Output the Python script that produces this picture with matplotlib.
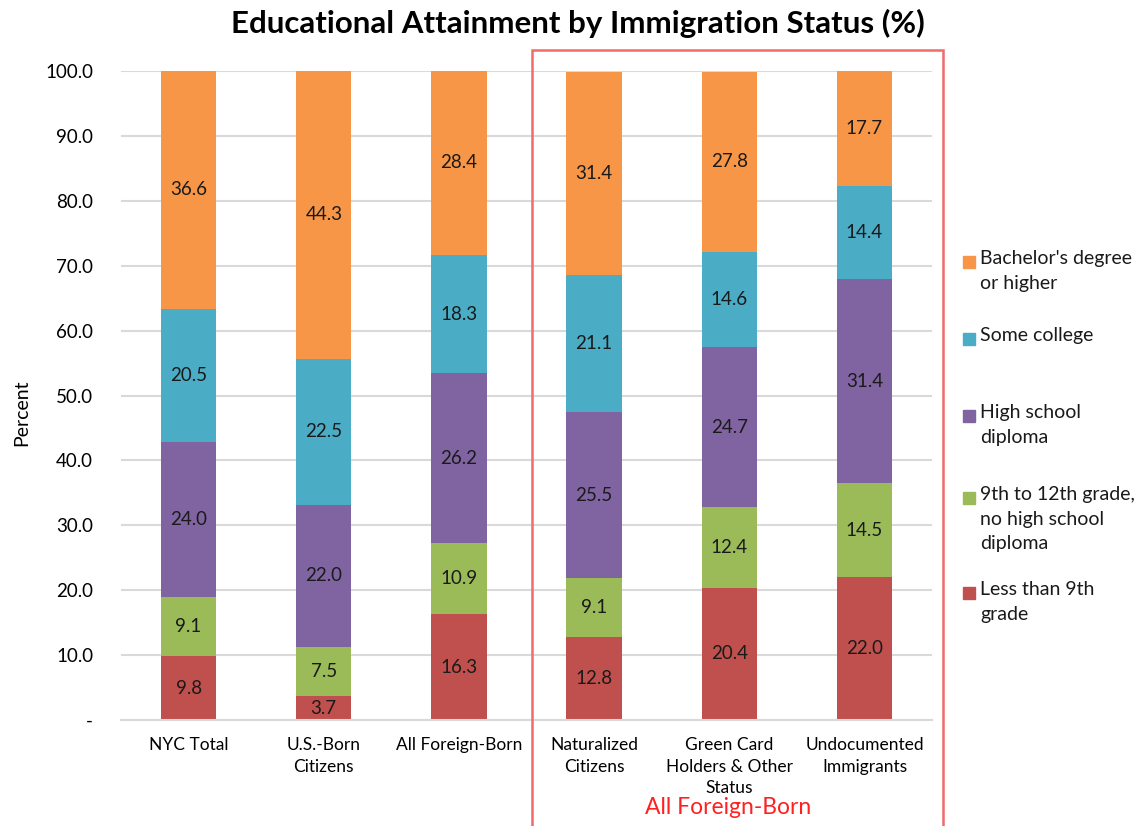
import numpy as np
import matplotlib.pyplot as plt
from matplotlib.patches import Rectangle

plt.rcParams['font.family'] = ['Lato', 'DejaVu Sans']

groups = ["NYC Total", "U.S.-Born\nCitizens", "All Foreign-Born",
          "Naturalized\nCitizens", "Green Card\nHolders & Other\nStatus",
          "Undocumented\nImmigrants"]

# stacked from the bottom up
less_9th = [9.8, 3.7, 16.3, 12.8, 20.4, 22.0]
grade_9_12 = [9.1, 7.5, 10.9, 9.1, 12.4, 14.5]
high_school = [24.0, 22.0, 26.2, 25.5, 24.7, 31.4]
some_college = [20.5, 22.5, 18.3, 21.1, 14.6, 14.4]
bachelors = [36.6, 44.3, 28.4, 31.4, 27.8, 17.7]

series = [less_9th, grade_9_12, high_school, some_college, bachelors]
names = ["Less than 9th\ngrade", "9th to 12th grade,\nno high school\ndiploma",
         "High school\ndiploma", "Some college", "Bachelor's degree\nor higher"]
colors = ["#C0504D", "#9BBB59", "#8064A2", "#4BACC6", "#F79646"]

yticks = np.arange(0, 101, 10)
ytick_labels = ["-"] + ["%.1f" % v for v in yticks[1:]]

fig = plt.figure(figsize=(11.46, 8.26), dpi=100)
ax = fig.add_axes([0.1056, 0.1283, 0.7077, 0.7857])

x = np.arange(len(groups))
bottom = np.zeros(len(groups))
for vals, col in zip(series, colors):
    vals = np.array(vals)
    ax.bar(x, vals, bottom=bottom, width=0.41, color=col, zorder=2)
    for xi, b, v in zip(x, bottom, vals):
        ax.text(xi, b + v / 2, "%.1f" % v, ha="center", va="center",
                fontsize=13.5, color="#1a1a1a", zorder=3)
    bottom += vals

ax.set_xlim(-0.5, 5.5)
ax.set_ylim(0, 100)
ax.set_yticks(yticks)
ax.set_yticklabels(ytick_labels, fontsize=13.5)
ax.set_xticks(x)
ax.set_xticklabels(groups, fontsize=12.5, linespacing=1.45)
ax.tick_params(axis="y", length=0, pad=20)
ax.tick_params(axis="x", length=0, pad=12)
ax.yaxis.grid(True, color="#d9d9d9", linewidth=1.5, zorder=0)
ax.set_axisbelow(True)
for s in ["top", "right", "left"]:
    ax.spines[s].set_visible(False)
ax.spines["bottom"].set_color("#d9d9d9")
ax.spines["bottom"].set_linewidth(1.5)

fig.text(0.019, 0.5, "Percent", rotation=90, ha="center", va="center", fontsize=14)
fig.text(0.504, 0.972, "Educational Attainment by Immigration Status (%)",
         ha="center", va="center", fontsize=22.5, fontweight="bold")

# box around the foreign-born breakdown
fig.patches.append(Rectangle((532 / 1146, -0.01), (943 - 532) / 1146, 1 - 50 / 826 + 0.01,
                             transform=fig.transFigure, fill=False,
                             edgecolor="#F26B6B", linewidth=1.8))
fig.text(728 / 1146, 1 - 808 / 826, "All Foreign-Born", ha="center", va="center",
         fontsize=16.5, color="#FF2020")

# legend, top entry first
legend_tops = [250, 327, 404, 486, 581]
for top, name, col in zip(legend_tops, names[::-1], colors[::-1]):
    fig.patches.append(Rectangle((963 / 1146, 1 - (top + 18) / 826), 12 / 1146, 12 / 826,
                                 transform=fig.transFigure, color=col))
    fig.text(980 / 1146, 1 - top / 826, name, ha="left", va="top",
             fontsize=14, linespacing=1.55, color="#1a1a1a")

fig.savefig("out.png", dpi=100, facecolor="white")
